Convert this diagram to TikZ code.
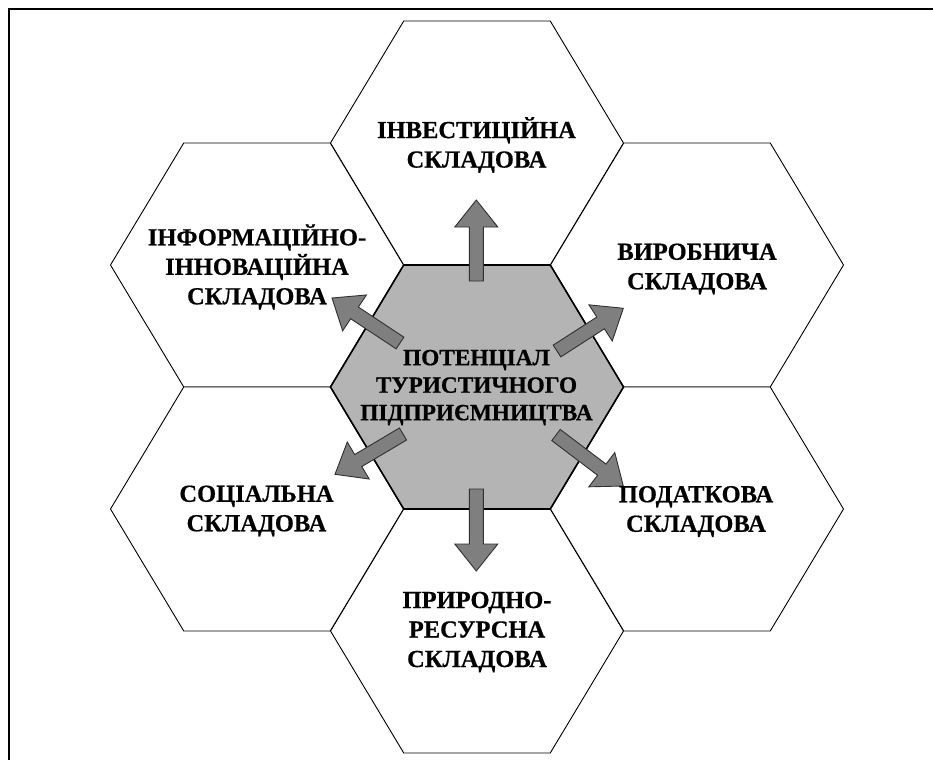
\documentclass[tikz,border=0pt]{standalone}
\usepackage{fontspec}
\setmainfont{Liberation Serif}
\newfontfamily\labelfont[FakeBold=0.6]{Liberation Serif Bold}
\usetikzlibrary{calc}

\definecolor{hexgray}{HTML}{B4B4B4}
\definecolor{arrowgray}{HTML}{7F7F7F}
\definecolor{arrowedge}{HTML}{303030}

% block arrow from tail #1 to tip #2 (shaft 14, head 43 wide, head 27 long)
\newcommand\blockarrow[2]{%
  \path ($(#2)!27pt!(#1)$) coordinate (ab);
  \filldraw[blockarrow]
    ($(#1)!7pt!-90:(#2)$) -- ($(ab)!7pt!90:(#1)$) -- ($(ab)!21.5pt!90:(#1)$)
    -- (#2) -- ($(ab)!21.5pt!-90:(#1)$) -- ($(ab)!7pt!-90:(#1)$)
    -- ($(#1)!7pt!90:(#2)$) -- cycle;}

\begin{document}
\begin{tikzpicture}[x=1pt,y=-1pt,
  hexa/.pic={\path[pic actions] (-146.5,0) -- (-73.25,-122) -- (73.25,-122)
      -- (146.5,0) -- (73.25,122) -- (-73.25,122) -- cycle;},
  outerhex/.style={draw=black, fill=white, line width=0.9pt},
  centerhex/.style={draw=black, fill=hexgray, line width=1.6pt},
  blockarrow/.style={fill=arrowgray, draw=arrowedge, line width=0.9pt, line join=miter},
  label/.style={font=\labelfont\fontsize{24.5}{29.5}\selectfont, align=center, inner sep=0pt},
  mainlabel/.style={font=\labelfont\fontsize{23.3}{27.5}\selectfont, align=center, inner sep=0pt}]

\useasboundingbox (0,0) rectangle (933,760);

% frame (top and left edges)
\draw[line width=2pt] (933,9) -- (9,9) -- (9,760);

% hexagon centres
\coordinate (cC)  at (477,387);
\coordinate (cT)  at (477,143);
\coordinate (cB)  at (477,631);
\coordinate (cUL) at (257,265);
\coordinate (cUR) at (697,265);
\coordinate (cLL) at (257,509);
\coordinate (cLR) at (697,509);

% surrounding hexagons
\foreach \c in {cT,cB,cUL,cUR,cLL,cLR}
  \pic[outerhex] at (\c) {hexa};

% central hexagon
\pic[centerhex] at (cC) {hexa};

% arrow end points
\coordinate (tT)  at (476.3,281);   \coordinate (hT)  at (476.3,200);
\coordinate (tB)  at (476.3,489);   \coordinate (hB)  at (476.3,571);
\coordinate (tUL) at (400,343);     \coordinate (hUL) at (332,298);
\coordinate (tUR) at (557,351);     \coordinate (hUR) at (623.3,308.3);
\coordinate (tLL) at (403,434);     \coordinate (hLL) at (335,474.3);
\coordinate (tLR) at (556,435);     \coordinate (hLR) at (623.3,486);

\blockarrow{tT}{hT}
\blockarrow{tB}{hB}
\blockarrow{tUL}{hUL}
\blockarrow{tUR}{hUR}
\blockarrow{tLL}{hLL}
\blockarrow{tLR}{hLR}

% labels
\node[mainlabel] (potential) at (476.5,387.5)
  {ПОТЕНЦІАЛ\\ТУРИСТИЧНОГО\\ПІДПРИЄМНИЦТВА};
\node[label] (invest) at (476.5,145) {ІНВЕСТИЦІЙНА\\СКЛАДОВА};
\node[label] (inform) at (257,267) {ІНФОРМАЦІЙНО-\\ІННОВАЦІЙНА\\СКЛАДОВА};
\node[label] (vyrob)  at (697,269) {ВИРОБНИЧА\\СКЛАДОВА};
\node[label] (social) at (256.5,511) {СОЦІАЛЬНА\\СКЛАДОВА};
\node[label] (podat)  at (696,511.5) {ПОДАТКОВА\\СКЛАДОВА};
\node[label] (pryrod) at (477,632) {ПРИРОДНО-\\РЕСУРСНА\\СКЛАДОВА};

\end{tikzpicture}
\end{document}
